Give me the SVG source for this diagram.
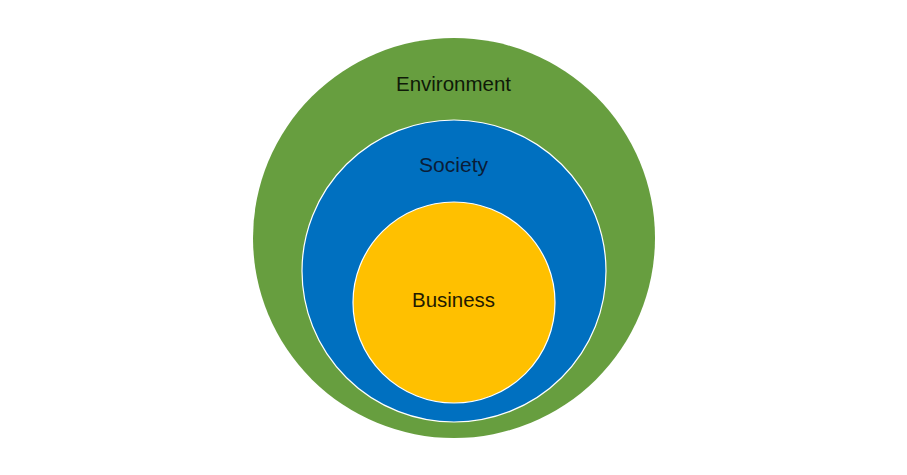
<svg xmlns="http://www.w3.org/2000/svg" width="907" height="475" viewBox="0 0 907 475">
<style>
.lbl{font-family:"Liberation Sans",Arial,sans-serif;font-size:20px;text-anchor:middle}
.ring{stroke:#ffffff;stroke-width:1.2}
</style>
<rect width="907" height="475" fill="#ffffff"/>
<g id="environment">
<ellipse cx="454" cy="238" rx="201" ry="200" fill="#679E3F"/>
<text class="lbl" x="453.5" y="91" fill="#0f1a08" textLength="115" lengthAdjust="spacingAndGlyphs">Environment</text>
</g>
<g id="society">
<ellipse class="ring" cx="454" cy="271" rx="152" ry="151" fill="#0070C0"/>
<text class="lbl" x="453.5" y="172" fill="#0a1d38" textLength="69" lengthAdjust="spacingAndGlyphs">Society</text>
</g>
<g id="business">
<ellipse class="ring" cx="454" cy="302.5" rx="101" ry="100.5" fill="#FFC000"/>
<text class="lbl" x="453.5" y="307" fill="#231a00" textLength="83" lengthAdjust="spacingAndGlyphs">Business</text>
</g>
<g id="connectors"/>
</svg>
